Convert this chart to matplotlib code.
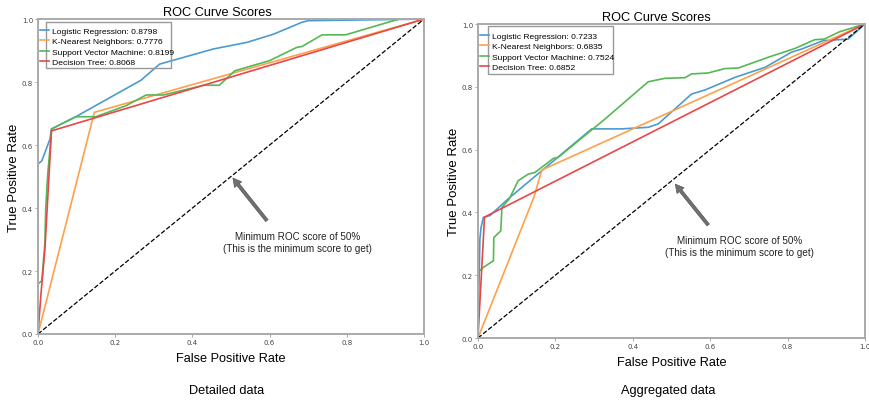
import matplotlib.pyplot as plt
from matplotlib.patches import Rectangle

# ---- du lieu doc tu hinh: Detailed data ----
d_lr_fpr = [0.0, 0.0, 0.01, 0.031, 0.035, 0.098, 0.267, 0.315, 0.454, 0.541, 0.61, 0.684, 0.70, 1.0]
d_lr_tpr = [0.0, 0.54, 0.55, 0.619, 0.651, 0.69, 0.806, 0.857, 0.905, 0.926, 0.952, 0.99, 0.995, 1.0]
d_knn_fpr = [0.0, 0.146, 1.0]
d_knn_tpr = [0.0, 0.704, 1.0]
d_svm_fpr = [0.0, 0.0, 0.01, 0.018, 0.02, 0.025, 0.031, 0.035, 0.098, 0.15, 0.228, 0.28, 0.325,
             0.43, 0.47, 0.51, 0.60, 0.67, 0.684, 0.736, 0.797, 0.935, 1.0]
d_svm_tpr = [0.0, 0.159, 0.169, 0.29, 0.397, 0.503, 0.587, 0.651, 0.69, 0.69, 0.725, 0.759, 0.759,
             0.79, 0.79, 0.836, 0.868, 0.91, 0.913, 0.95, 0.95, 1.0, 1.0]
d_dt_fpr = [0.0, 0.008, 0.018, 0.035, 1.0]
d_dt_tpr = [0.0, 0.13, 0.27, 0.645, 1.0]

# ---- Aggregated data ----
a_lr_fpr = [0.0, 0.005, 0.008, 0.014, 0.031, 0.078, 0.294, 0.371, 0.44, 0.466, 0.552, 0.587,
            0.664, 0.742, 0.81, 0.836, 0.892, 0.957, 1.0]
a_lr_tpr = [0.0, 0.315, 0.352, 0.384, 0.39, 0.443, 0.666, 0.666, 0.671, 0.682, 0.777, 0.79,
            0.83, 0.862, 0.91, 0.92, 0.947, 0.952, 1.0]
a_knn_fpr = [0.0, 0.145, 0.165, 1.0]
a_knn_tpr = [0.0, 0.45, 0.535, 1.0]
a_svm_fpr = [0.0, 0.0, 0.014, 0.04, 0.041, 0.059, 0.062, 0.081, 0.104, 0.13, 0.147, 0.195, 0.207,
             0.328, 0.44, 0.483, 0.535, 0.552, 0.595, 0.638, 0.673, 0.75, 0.819, 0.87, 0.895, 0.934, 1.0]
a_svm_tpr = [0.0, 0.209, 0.225, 0.246, 0.32, 0.341, 0.416, 0.443, 0.501, 0.522, 0.527, 0.572, 0.575,
             0.697, 0.816, 0.827, 0.829, 0.841, 0.844, 0.858, 0.86, 0.894, 0.922, 0.95, 0.952, 0.975, 1.0]
a_dt_fpr = [0.0, 0.017, 1.0]
a_dt_tpr = [0.0, 0.385, 1.0]

d_labels = ['Logistic Regression: 0.8798', 'K-Nearest Neighbors: 0.7776',
            'Support Vector Machine: 0.8199', 'Decision Tree: 0.8068']
a_labels = ['Logistic Regression: 0.7233', 'K-Nearest Neighbors: 0.6835',
            'Support Vector Machine: 0.7524', 'Decision Tree: 0.6852']

colors = ['#4c9bd0', '#ffa04a', '#55b855', '#e8474a']
tick_vals = [0.0, 0.2, 0.4, 0.6, 0.8, 1.0]

plt.rcParams['font.family'] = ['Liberation Sans', 'DejaVu Sans']

fig = plt.figure(figsize=(8.69, 4.02), dpi=100)
ax1 = fig.add_axes([0.0437, 0.1667, 0.4442, 0.7833])
ax2 = fig.add_axes([0.5500, 0.1567, 0.4453, 0.7811])


def ve_roc(ax, data, labels, leg_box, leg_y, title_x, sub, sub_x, ann):
    for (f, t), lab, c in zip(data, labels, colors):
        ax.plot(f, t, color=c, lw=1.2, label=lab)
    ax.plot([0, 1], [0, 1], 'k--', lw=0.9)
    ax.set_xlim(0, 1)
    ax.set_ylim(0, 1)
    ax.set_xticks(tick_vals)
    ax.set_yticks(tick_vals)
    ax.set_xticklabels(['0.0', '0.2', '0.4', '0.6', '0.8', '1.0'],
                       family=['Liberation Sans Narrow', 'DejaVu Sans'])
    ax.set_yticklabels(['0.0', '0.2', '0.4', '0.6', '0.8', '1.0'],
                       family=['Liberation Sans Narrow', 'DejaVu Sans'])
    ax.tick_params(labelsize=5, length=2, width=0.6, color='#999999', labelcolor='#444444', pad=1.5)
    for s in ax.spines.values():
        s.set_color('#aaaaaa')
        s.set_linewidth(1.4)
    ax.set_title('ROC Curve Scores', fontsize=9.2, x=title_x, pad=3)
    ax.set_xlabel('False Positive Rate', fontsize=9.2, labelpad=5)
    ax.set_ylabel('True Positive Rate', fontsize=9.5, labelpad=1)
    ax.legend(loc='upper left', fontsize=6.1, frameon=False, handlelength=1.0,
              handletextpad=0.45, labelspacing=0.28, borderaxespad=0.0,
              bbox_to_anchor=(-0.003, leg_y))
    ax.add_patch(Rectangle((leg_box[0], leg_box[1]), leg_box[2], leg_box[3],
                           transform=ax.transAxes, fill=False, ec='#999999', lw=1.0, zorder=5))
    (hx, hy), (tx, ty) = ann
    ax.annotate('', xy=(hx, hy), xytext=(tx, ty),
                arrowprops=dict(facecolor='#6E726D', edgecolor='#555555', width=2.2,
                                headwidth=6.5, headlength=6, lw=0.5))
    ax.text(tx + 0.08, ty - 0.068, 'Minimum ROC score of 50%\n(This is the minimum score to get)',
            fontsize=7.1, ha='center', va='center', color='#222222', linespacing=1.25)
    fig.text(sub_x, 0.027, sub, fontsize=9.2, ha='center', va='center')


ve_roc(ax1,
       [(d_lr_fpr, d_lr_tpr), (d_knn_fpr, d_knn_tpr), (d_svm_fpr, d_svm_tpr), (d_dt_fpr, d_dt_tpr)],
       d_labels, (0.021, 0.845, 0.324, 0.146), 0.985, 0.465, 'Detailed data', 227 / 869,
       ((0.505, 0.495), (0.593, 0.36)))
ve_roc(ax2,
       [(a_lr_fpr, a_lr_tpr), (a_knn_fpr, a_knn_tpr), (a_svm_fpr, a_svm_tpr), (a_dt_fpr, a_dt_tpr)],
       a_labels, (0.026, 0.842, 0.323, 0.153), 0.985, 0.46, 'Aggregated data', 668 / 869,
       ((0.51, 0.49), (0.595, 0.36)))

fig.savefig('out.png', dpi=100)
